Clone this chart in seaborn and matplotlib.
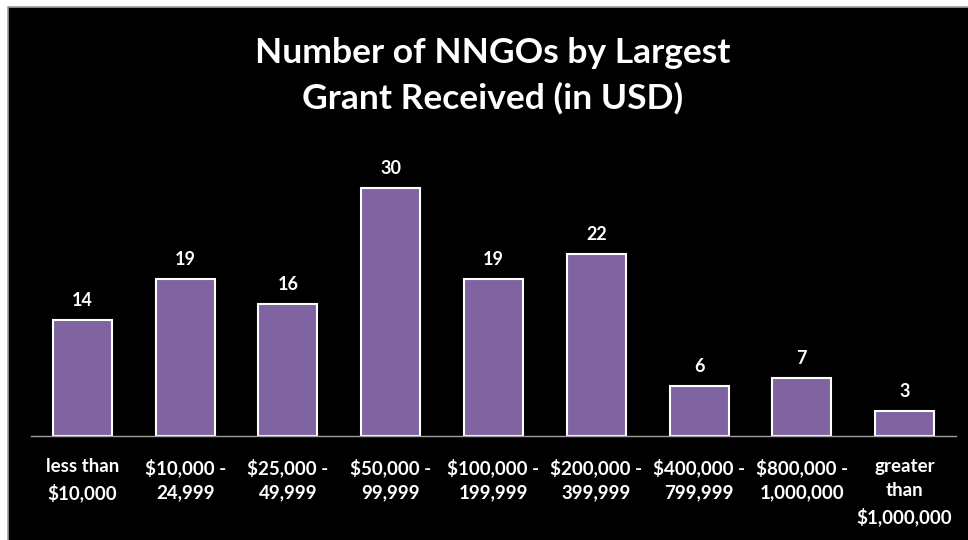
import matplotlib
matplotlib.use("Agg")
import matplotlib.pyplot as plt
import seaborn as sns
import pandas as pd
from matplotlib.patches import Rectangle

categories = ["less than\n$10,000", "$10,000 -\n24,999", "$25,000 -\n49,999",
              "$50,000 -\n99,999", "$100,000 -\n199,999", "$200,000 -\n399,999",
              "$400,000 -\n799,999", "$800,000 -\n1,000,000", "greater\nthan\n$1,000,000"]
counts = [14, 19, 16, 30, 19, 22, 6, 7, 3]
title = "Number of NNGOs by Largest\nGrant Received (in USD)"

sns.set_theme(style="dark")
plt.rcParams['font.family'] = ['Lato', 'DejaVu Sans']

df = pd.DataFrame({"cat": categories, "n": counts})

fig = plt.figure(figsize=(9.68, 5.40), dpi=100)
fig.patch.set_facecolor("white")
bg = Rectangle((8/968, -0.05), 1.1, 1.05 - 7/540, transform=fig.transFigure,
               facecolor="black", edgecolor="#a0a0a0", linewidth=1.2, zorder=-5)
fig.patches.append(bg)

ax = fig.add_axes([31/968, 1 - 436/540, (956 - 31)/968, (436 - 163)/540])
ax.set_zorder(2)
ax.set_facecolor("none")
sns.barplot(data=df, x="cat", y="n", color="#8064A2", saturation=1, width=0.575,
            edgecolor="white", linewidth=1.5, ax=ax)
ax.set_xlim(-0.5, 8.5)
ax.set_ylim(0, 33)
for c in ax.containers:
    ax.bar_label(c, labels=[str(v) for v in counts], padding=8, color="white",
                 fontsize=13, fontweight="bold")
ax.set_xlabel("")
ax.set_ylabel("")
ax.set_yticks([])
for s in ["top", "right", "left"]:
    ax.spines[s].set_visible(False)
ax.spines["bottom"].set_visible(True)
ax.spines["bottom"].set_color("#a0a0a0")
ax.spines["bottom"].set_linewidth(1)
ax.tick_params(axis="x", colors="white", length=0, pad=16, labelsize=13.5)
for t in ax.get_xticklabels():
    t.set_fontweight("bold")
    t.set_linespacing(1.5)
    t.set_verticalalignment("top")
ax.grid(False)

fig.text(493/968, 1 - 76/540, title, ha="center", va="center", color="white",
         fontsize=25.5, fontweight="bold", linespacing=1.5, zorder=3)

fig.savefig("out.png", dpi=100, facecolor=fig.get_facecolor())
